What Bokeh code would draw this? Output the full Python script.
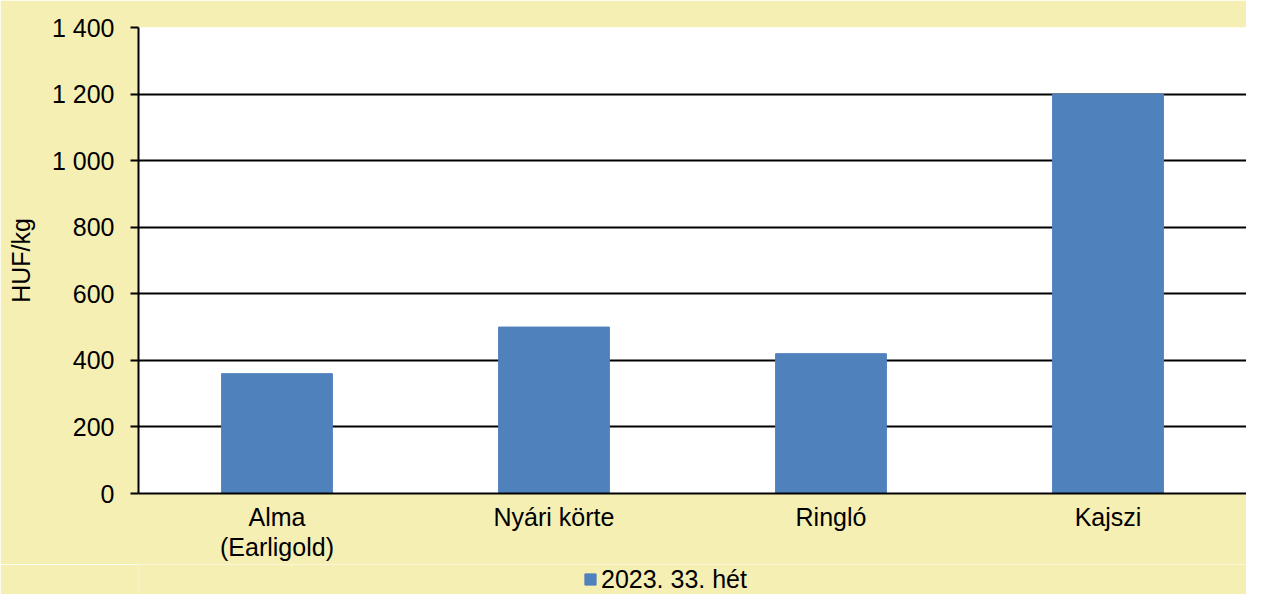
from bokeh.plotting import figure
from bokeh.layouts import column
from bokeh.models import ColumnDataSource, FactorRange, Range1d, FixedTicker, Legend, LegendItem
from bokeh.embed import file_html
from bokeh.resources import INLINE

categories = ["Alma\n(Earligold)", "Nyári körte", "Ringló", "Kajszi"]
values = [360, 500, 420, 1200]
series_name = "2023. 33. hét"
y_ticks = [0, 200, 400, 600, 800, 1000, 1200, 1400]
y_tick_labels = ["0", "200", "400", "600", "800", "1 000", "1 200", "1 400"]

BG = "#F5EFB4"
BAR = "#4F81BD"
FONT = "Liberation Sans"

source = ColumnDataSource(data=dict(cat=categories, val=values))

p = figure(
    x_range=FactorRange(*categories, range_padding=0),
    y_range=Range1d(0, 1400),
    width=1246, height=564,
    output_backend="svg", toolbar_location=None,
    background_fill_color="white", border_fill_color=BG,
    min_border_left=138, min_border_right=0, min_border_top=27, min_border_bottom=71,
)
p.outline_line_color = None

r = p.vbar(x="cat", top="val", width=0.4, source=source, fill_color=BAR, line_color=BAR)

# grid
p.xgrid.grid_line_color = None
p.ygrid.grid_line_color = "black"
p.ygrid.grid_line_width = 2
p.ygrid.ticker = FixedTicker(ticks=y_ticks)

# y axis
p.yaxis.ticker = FixedTicker(ticks=y_ticks)
p.yaxis.major_label_overrides = {t: l for t, l in zip(y_ticks, y_tick_labels)}
p.yaxis.axis_line_color = "black"
p.yaxis.axis_line_width = 2
p.yaxis.major_tick_line_color = "black"
p.yaxis.major_tick_line_width = 2
p.yaxis.major_tick_out = 8
p.yaxis.major_tick_in = 0
p.yaxis.minor_tick_line_color = None
p.yaxis.major_label_text_font = FONT
p.yaxis.major_label_text_font_size = "25px"
p.yaxis.major_label_text_color = "black"
p.yaxis.major_label_standoff = 16
p.yaxis.axis_label = "HUF/kg"
p.yaxis.axis_label_text_font = FONT
p.yaxis.axis_label_text_font_size = "25px"
p.yaxis.axis_label_text_font_style = "normal"
p.yaxis.axis_label_text_color = "black"
p.yaxis.axis_label_standoff = 14

# x axis
p.xaxis.axis_line_color = "black"
p.xaxis.axis_line_width = 2
p.xaxis.major_tick_line_color = None
p.xaxis.minor_tick_line_color = None
p.xaxis.major_label_text_font = FONT
p.xaxis.major_label_text_font_size = "25px"
p.xaxis.major_label_text_color = "black"
p.xaxis.major_label_text_line_height = 1.1
p.xaxis.major_label_standoff = 3

# legend strip below the chart (bars lie outside its y range, only the legend shows)
lf = figure(
    x_range=p.x_range, y_range=Range1d(2000, 3000),
    width=1246, height=30,
    output_backend="svg", toolbar_location=None,
    x_axis_location=None, y_axis_location=None,
    background_fill_color=BG, border_fill_color=BG,
    min_border_left=0, min_border_right=0, min_border_top=0, min_border_bottom=0,
)
lf.outline_line_color = None
lf.xgrid.grid_line_color = None
lf.ygrid.grid_line_color = None
lr = lf.vbar(x="cat", top="val", width=0.4, source=source, fill_color=BAR, line_color=BAR)

legend = Legend(
    items=[LegendItem(label=series_name, renderers=[lr])],
    location=(445, 0),
    orientation="horizontal",
    background_fill_alpha=0, border_line_color=None,
    label_text_font=FONT, label_text_font_size="25px", label_text_color="black",
    label_height=30, glyph_width=14, glyph_height=14, padding=0, margin=0, label_standoff=4,
)
lf.add_layout(legend, "center")

layout = column(p, lf, spacing=0)
open("out.html", "w").write(file_html(layout, INLINE))
